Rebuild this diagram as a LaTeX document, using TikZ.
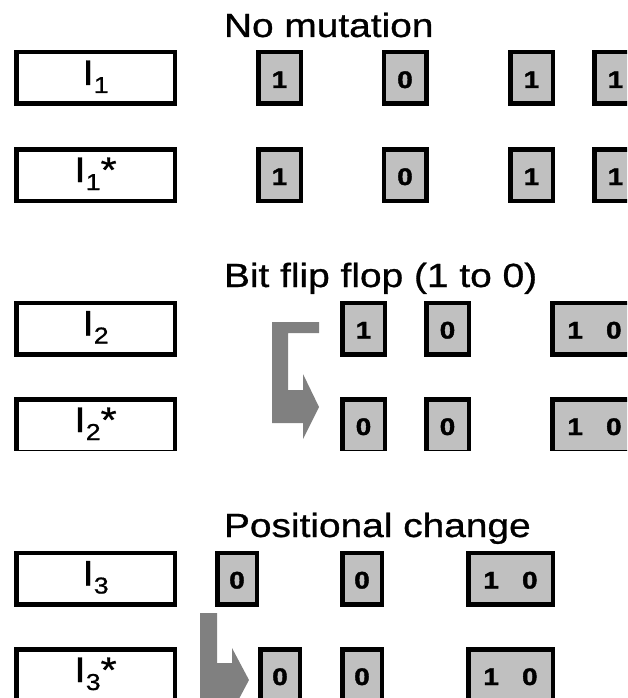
\documentclass[tikz,border=0pt]{standalone}
\usepackage{fontspec}
\setmainfont{Liberation Sans}
\newfontfamily\digitfont[FakeBold=1.5]{Liberation Sans Bold}
\newfontfamily\labelfont[FakeBold=0.8]{Liberation Sans}
\usepackage{graphicx}
\definecolor{bitgray}{HTML}{C0C0C0}
\definecolor{arrowgray}{HTML}{808080}
\newcommand{\Ilab}[2]{\scalebox{1.16}[1]{I\raisebox{-8pt}{\fontsize{23}{23}\selectfont #1}#2}}
\newcommand{\Bt}[1]{\scalebox{1.16}[1]{#1}}
\tikzset{
  border/.style={line width=4.5pt, line join=miter},
  lbl/.style={draw, border, fill=white, minimum width=158.5pt, minimum height=51.5pt, inner sep=0pt, outer sep=0pt, text height=14pt, text depth=0pt, font=\labelfont\fontsize{35.5}{35.5}\selectfont},
  bit/.style={draw, border, fill=bitgray, minimum width=42.5pt, minimum height=51.5pt, inner sep=0pt, outer sep=0pt, text height=20pt, text depth=0pt, font=\digitfont\fontsize{24}{24}\selectfont},
  narrowbit/.style={bit, minimum width=39.5pt},
  widebit/.style={bit, minimum width=84.5pt},
  openbot/.style={draw=none},
  thinline/.style={line width=1pt},
  ttl/.style={anchor=base west, inner sep=0pt, outer sep=0pt, font=\labelfont\fontsize{33.5}{33.5}\selectfont},
  bentarrow/.style={fill=arrowgray, draw=none}
}
\begin{document}
\begin{tikzpicture}[x=1pt, y=-1pt]
\useasboundingbox (0,0) rectangle (627,698);
\clip (0,0) rectangle (627,698);
% ---------- No mutation ----------
\node[ttl] (t1) at (224,37) {\Bt{No mutation}};
\node[lbl] (i1) at (95.5,78) {\Ilab{1}{}};
\node[bit] (a1) at (279.5,78) {\Bt{1}};
\node[bit] (a2) at (405,78) {\Bt{0}};
\node[bit] (a3) at (531.5,78) {\Bt{1}};
\node[bit] (a4) at (615.5,78) {\Bt{1}};
\node[lbl] (i1s) at (95.5,175) {\Ilab{1}{*}};
\node[bit] (b1) at (279.5,175) {\Bt{1}};
\node[bit] (b2) at (405,175) {\Bt{0}};
\node[bit] (b3) at (531.5,175) {\Bt{1}};
\node[bit] (b4) at (615.5,175) {\Bt{1}};
% ---------- Bit flip flop ----------
\node[ttl] (t2) at (224,287) {\Bt{Bit flip flop (1 to 0)}};
\node[lbl] (i2) at (95.5,328.5) {\Ilab{2}{}};
\node[bit] (c1) at (363.5,328.5) {\Bt{1}};
\node[bit] (c2) at (447.5,328.5) {\Bt{0}};
\node[widebit] (c3) at (594.5,328.5) {\Bt{1\hspace{20pt}0}};
\node[lbl, openbot] (i2s) at (95.5,425) {\Ilab{2}{*}};
\node[bit, openbot] (d1) at (363.5,425) {\Bt{0}};
\node[bit, openbot] (d2) at (447.5,425) {\Bt{0}};
\node[widebit, openbot] (d3) at (594.5,425) {\Bt{1\hspace{20pt}0}};
\foreach \n in {i2s,d1,d2,d3}{
  \draw[border] (\n.south west) -- (\n.north west) -- (\n.north east) -- (\n.south east);
  \draw[thinline] (\n.south west) -- (\n.south east);
}
\fill[bentarrow] (272,322) -- (319,322) -- (319,333) -- (288,333) -- (288,390) -- (303,390) -- (303,374) -- (319,407) -- (303,439) -- (303,423) -- (272,423) -- cycle;
% ---------- Positional change ----------
\node[ttl] (t3) at (224,537) {\Bt{Positional change}};
\node[lbl] (i3) at (95.5,578.5) {\Ilab{3}{}};
\node[narrowbit] (e1) at (237,578.5) {\Bt{0}};
\node[narrowbit] (e2) at (362,578.5) {\Bt{0}};
\node[widebit] (e3) at (510.5,578.5) {\Bt{1\hspace{20pt}0}};
\node[lbl] (i3s) at (95.5,675) {\Ilab{3}{*}};
\node[narrowbit] (f1) at (280,675) {\Bt{0}};
\node[narrowbit] (f2) at (362,675) {\Bt{0}};
\node[widebit] (f3) at (510.5,675) {\Bt{1\hspace{20pt}0}};
\fill[bentarrow] (200,613) -- (217,613) -- (217,663) -- (232,663) -- (232,648) -- (249,680) -- (232,712) -- (232,700) -- (200,700) -- cycle;
\end{tikzpicture}
\end{document}
